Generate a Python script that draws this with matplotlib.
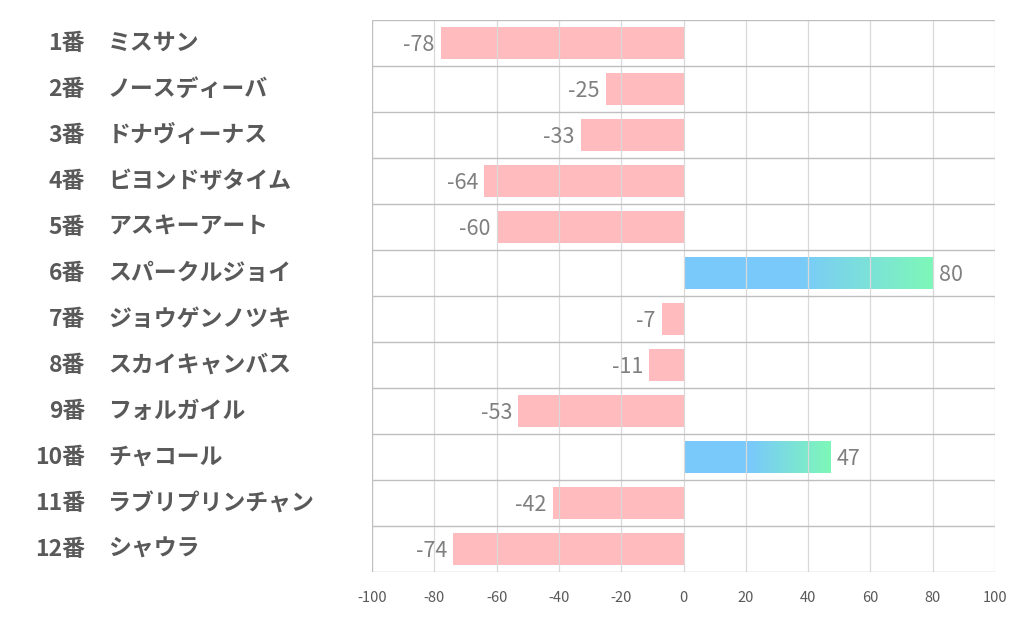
import numpy as np
import matplotlib.pyplot as plt
from matplotlib.colors import LinearSegmentedColormap

plt.rcParams['font.family'] = ['Noto Sans CJK JP', 'DejaVu Sans']
plt.rcParams['axes.unicode_minus'] = False

numbers = ['1番', '2番', '3番', '4番', '5番', '6番', '7番', '8番', '9番', '10番', '11番', '12番']
names = ['ミスサン', 'ノースディーバ', 'ドナヴィーナス', 'ビヨンドザタイム', 'アスキーアート',
         'スパークルジョイ', 'ジョウゲンノツキ', 'スカイキャンバス', 'フォルガイル',
         'チャコール', 'ラブリプリンチャン', 'シャウラ']
values = [-78, -25, -33, -64, -60, 80, -7, -11, -53, 47, -42, -74]

fig = plt.figure(figsize=(10.22, 6.26), dpi=100)
ax = fig.add_axes([372 / 1022, 1 - 572 / 626, 623 / 1022, 552 / 626])

n = len(values)
ypos = np.arange(n)
ax.set_xlim(-100, 100)
ax.set_ylim(n - 0.5, -0.5)

# grid
for x in range(-80, 101, 20):
    ax.axvline(x, color='#d9d9d9', lw=0.9, zorder=3)
for y in np.arange(-0.5, n, 1):
    ax.axhline(y, color='#bfbfbf', lw=1.0, zorder=3)
ax.axvline(-100, color='#bfbfbf', lw=1.0, zorder=3)

cmap = LinearSegmentedColormap.from_list('bg', [(0, '#79c9fb'), (0.45, '#79c9fb'), (1, '#7ef8b8')])
bh = 0.68
bars = ax.barh(ypos, values, height=bh, color='#ffbbbe', zorder=2)
grad = np.linspace(0, 1, 256).reshape(1, -1)
for b, v in zip(bars, values):
    if v > 0:
        b.set_facecolor('none')
        im = ax.imshow(grad, cmap=cmap, aspect='auto', zorder=2,
                       extent=[0, v, b.get_y() + bh, b.get_y()])
        im.set_clip_path(b)

for y, v in zip(ypos, values):
    if v < 0:
        ax.text(v - 2, y + 0.05, str(v), ha='right', va='center', fontsize=15.5, color='#7f7f7f')
    else:
        ax.text(v + 2, y + 0.05, str(v), ha='left', va='center', fontsize=15.5, color='#7f7f7f')

ax.set_xticks(range(-100, 101, 20))
ax.tick_params(axis='x', length=0, labelsize=10.5, labelcolor='#595959', pad=14)
ax.set_yticks([])
for s in ax.spines.values():
    s.set_visible(False)

for y, num, name in zip(ypos, numbers, names):
    yy = ax.transData.transform((0, y))[1]
    yf = fig.transFigure.inverted().transform((0, yy))[1]
    fig.text(85 / 1022, yf, num, ha='right', va='center', fontsize=16.5, fontweight='bold', color='#595959')
    fig.text(108 / 1022, yf, name, ha='left', va='center', fontsize=16.5, fontweight='bold', color='#595959')

fig.savefig('out.png', dpi=100)
